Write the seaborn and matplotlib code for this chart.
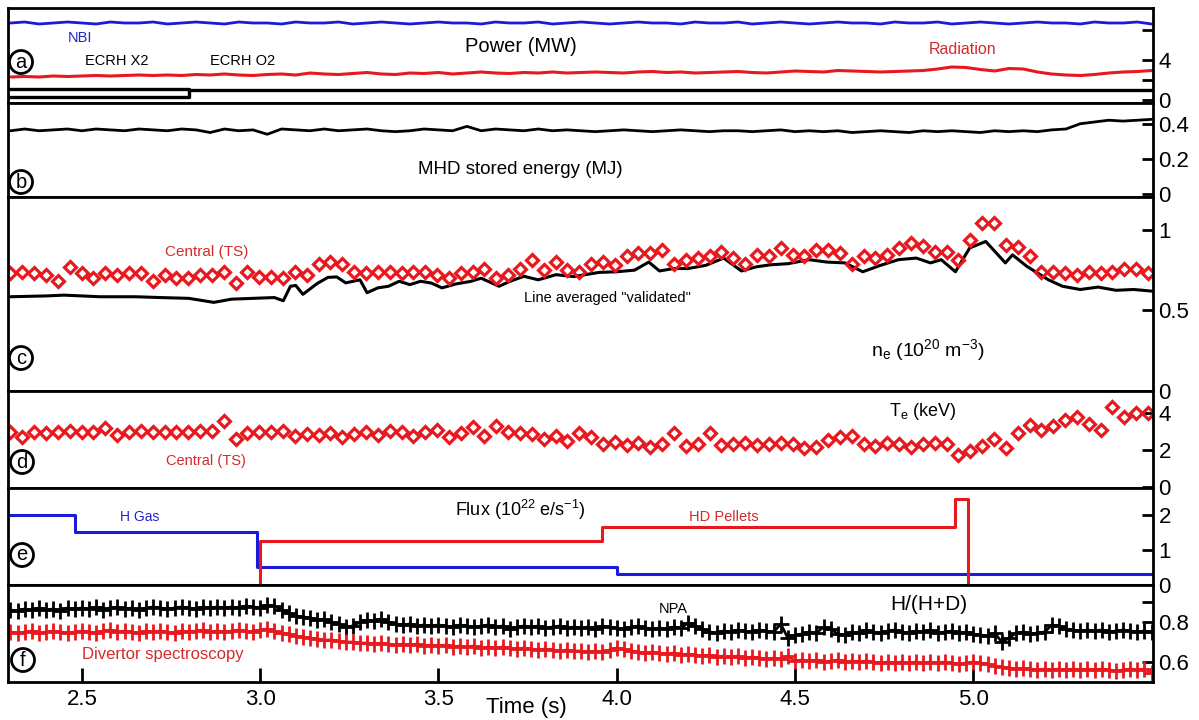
import numpy as np
import matplotlib
matplotlib.use("Agg")
import matplotlib.pyplot as plt
import seaborn as sns

sns.set_theme(style="white")
plt.rcParams['font.family'] = ['Liberation Sans', 'DejaVu Sans']
plt.rcParams['mathtext.fontset'] = 'custom'
plt.rcParams['mathtext.rm'] = 'Liberation Sans'
plt.rcParams['mathtext.it'] = 'Liberation Sans:italic'

# ---------------- data ----------------
T_START, T_END = 2.30, 5.50

# (a) power, MW
nbi_mw = [7.7, 7.8, 7.6, 7.7, 7.8, 7.7, 7.6, 7.8, 7.7, 7.7, 7.8, 7.6, 7.7, 7.8, 7.7, 7.6, 7.8, 7.7, 7.7, 7.6,
          7.8, 7.7, 7.7, 7.8, 7.6, 7.7, 7.8, 7.7, 7.6, 7.7, 7.8, 7.7, 7.7, 7.6, 7.8, 7.7, 7.7, 7.8, 7.6, 7.7,
          7.8, 7.7, 7.6, 7.7, 7.8, 7.7, 7.7, 7.6, 7.8, 7.7, 7.7, 7.8, 7.6, 7.7, 7.8, 7.7, 7.6, 7.7, 7.8, 7.7,
          7.7, 7.6, 7.8, 7.7, 7.7, 7.8, 7.6, 7.7, 7.8, 7.7, 7.6, 7.7, 7.8, 7.7, 7.7, 7.6, 7.8, 7.7, 7.7, 7.8, 7.6]
radiation_mw = [2.3, 2.35, 2.3, 2.4, 2.35, 2.4, 2.45, 2.4, 2.45, 2.5, 2.45,
                2.5, 2.45, 2.55, 2.5, 2.6, 2.5, 2.45, 2.55, 2.6, 2.5,
                2.7, 2.6, 2.55, 2.65, 2.75, 2.6, 2.55, 2.7, 2.65, 2.75,
                2.6, 2.7, 2.8, 2.7, 2.65, 2.75, 2.7, 2.8, 2.7, 2.75,
                2.8, 2.75, 2.7, 2.8, 2.85, 2.75, 2.8, 2.7, 2.75, 2.8,
                2.85, 2.75, 2.7, 2.8, 2.9, 2.85, 2.8, 2.95, 2.9, 2.85,
                2.8, 2.85, 2.9, 2.95, 3.1, 3.3, 3.25, 3.05, 2.9, 3.15,
                3.1, 2.8, 2.6, 2.5, 2.45, 2.55, 2.7, 2.8, 2.85, 2.95]
ecrh_x2_t = [2.29, 2.80]
ecrh_x2_mw = [1.15, 1.15]
ecrh_o2_t = [2.29, 2.80, 2.80, 5.51]
ecrh_o2_mw = [0.3, 0.3, 1.05, 1.05]

# (b) MHD stored energy, MJ
mhd_mj = [0.36, 0.37, 0.36, 0.365, 0.37, 0.36, 0.37, 0.365, 0.36, 0.37, 0.365,
          0.36, 0.37, 0.365, 0.35, 0.37, 0.36, 0.365, 0.34, 0.37, 0.365,
          0.36, 0.37, 0.36, 0.365, 0.37, 0.36, 0.355, 0.36, 0.37, 0.365,
          0.36, 0.385, 0.36, 0.37, 0.365, 0.36, 0.37, 0.36, 0.365, 0.36,
          0.355, 0.36, 0.365, 0.36, 0.355, 0.36, 0.365, 0.36, 0.355, 0.36,
          0.36, 0.355, 0.36, 0.365, 0.355, 0.36, 0.355, 0.36, 0.35, 0.355,
          0.36, 0.355, 0.35, 0.36, 0.355, 0.36, 0.355, 0.35, 0.36, 0.355,
          0.36, 0.355, 0.365, 0.37, 0.40, 0.41, 0.42, 0.415, 0.42, 0.425]

# (c) density, 1e20 m^-3
ne_line_t = [2.30, 2.40, 2.45, 2.55, 2.65, 2.72, 2.80, 2.87, 2.92, 2.98, 3.04, 3.065, 3.085, 3.10,
             3.12, 3.16, 3.19, 3.215, 3.24, 3.28, 3.30, 3.33, 3.36, 3.39, 3.42, 3.45, 3.48, 3.51,
             3.55, 3.59, 3.62, 3.67, 3.70, 3.74, 3.78, 3.83, 3.88, 3.95, 4.00, 4.05, 4.09, 4.12,
             4.16, 4.20, 4.25, 4.30, 4.35, 4.39, 4.43, 4.48, 4.54, 4.59, 4.64, 4.69, 4.74, 4.79,
             4.84, 4.88, 4.91, 4.95, 4.99, 5.035, 5.09, 5.11, 5.15, 5.21, 5.25, 5.30, 5.35, 5.40,
             5.45, 5.50]
ne_line = [0.585, 0.59, 0.595, 0.585, 0.585, 0.58, 0.575, 0.55, 0.57, 0.575, 0.58, 0.56, 0.65, 0.655,
           0.60, 0.667, 0.705, 0.708, 0.671, 0.69, 0.61, 0.64, 0.65, 0.681, 0.66, 0.681, 0.67, 0.64,
           0.665, 0.68, 0.70, 0.65, 0.68, 0.712, 0.69, 0.722, 0.71, 0.736, 0.74, 0.75, 0.80, 0.745,
           0.76, 0.76, 0.78, 0.825, 0.745, 0.77, 0.783, 0.79, 0.815, 0.80, 0.795, 0.74, 0.78, 0.815,
           0.825, 0.795, 0.815, 0.74, 0.888, 0.928, 0.795, 0.845, 0.774, 0.691, 0.65, 0.63, 0.645, 0.625,
           0.63, 0.62]
ne_ts = [0.73, 0.74, 0.73, 0.72, 0.68, 0.77, 0.73, 0.70, 0.73, 0.72, 0.73, 0.73, 0.68, 0.72, 0.70,
         0.70, 0.72, 0.72, 0.74, 0.67, 0.74, 0.71, 0.71, 0.70, 0.74, 0.72, 0.79, 0.80, 0.79, 0.74,
         0.73, 0.74, 0.74, 0.73, 0.74, 0.74, 0.72, 0.70, 0.73, 0.74, 0.76, 0.70, 0.72, 0.76, 0.815,
         0.75, 0.80, 0.75, 0.74, 0.79,
         0.80, 0.78, 0.835, 0.855, 0.855, 0.875, 0.79, 0.815, 0.825, 0.835, 0.865, 0.825, 0.79, 0.845,
         0.835, 0.885, 0.845, 0.835, 0.875, 0.875, 0.855, 0.79, 0.835, 0.825, 0.845, 0.885, 0.92, 0.90,
         0.865, 0.865, 0.815, 0.94, 1.04, 1.04, 0.905, 0.895, 0.835, 0.74, 0.74, 0.73, 0.72, 0.74,
         0.73, 0.74, 0.76, 0.76, 0.73]

# (d) temperature, keV
te_ts = [3.0, 2.7, 2.95, 2.9, 2.95, 3.05, 2.95, 3.0, 3.2, 2.8, 3.0, 3.05, 3.0, 3.0, 2.95, 3.0, 3.05, 3.05,
         3.55, 2.6,
         2.9, 3.0, 3.0, 3.05, 2.75, 2.85, 2.8, 2.9, 2.7, 2.85,
         3.0, 2.8, 3.05, 2.95, 2.75, 3.0, 3.1, 2.7, 2.9, 3.25,
         2.75, 3.3, 2.95, 2.9, 2.85, 2.6, 2.75, 2.5, 2.9, 2.7,
         2.35, 2.45, 2.25, 2.4, 2.15, 2.3, 2.9, 2.2, 2.3, 2.9,
         2.25, 2.3, 2.4, 2.25, 2.35, 2.4, 2.3, 2.1, 2.15, 2.55,
         2.7, 2.75, 2.35, 2.2, 2.4, 2.3, 2.15, 2.35, 2.4, 2.3,
         1.75, 1.95, 2.2, 2.6, 2.1, 2.9, 3.35, 3.1, 3.3, 3.6,
         3.8, 3.4, 3.1, 4.3, 3.8, 4.0, 4.0]
TS_START, TS_END = 2.30, 5.49

# (e) flux, 1e22 e/s
hgas_t = [2.29, 2.48, 2.99, 4.00, 5.51]
hgas_flux = [2.0, 1.5, 0.5, 0.3, 0.3]
pellet_t = [2.29, 3.00, 3.96, 4.95, 4.985, 5.51]
pellet_flux = [0.0, 1.25, 1.65, 2.45, 0.0, 0.0]

# (f) isotope ratio H/(H+D)
npa_ratio = [0.86, 0.855, 0.865, 0.86, 0.87, 0.86, 0.865, 0.855, 0.87, 0.865,
             0.87, 0.865, 0.875, 0.86, 0.87, 0.875, 0.865, 0.87, 0.86, 0.87,
             0.875, 0.87, 0.865, 0.87, 0.875, 0.87, 0.865, 0.875, 0.87, 0.875,
             0.87, 0.875, 0.87, 0.88, 0.875, 0.87, 0.885, 0.88, 0.86, 0.845,
             0.83, 0.825, 0.82, 0.81, 0.815, 0.80, 0.79, 0.775, 0.78, 0.80,
             0.81, 0.805, 0.815, 0.80, 0.79, 0.785, 0.79, 0.78, 0.785, 0.78,
             0.785, 0.78, 0.775, 0.785, 0.78, 0.775, 0.78, 0.785, 0.775, 0.78,
             0.765, 0.775, 0.78, 0.775, 0.78, 0.77, 0.775, 0.78, 0.77, 0.775,
             0.77, 0.775, 0.765, 0.78, 0.775, 0.77, 0.765, 0.775, 0.78, 0.77,
             0.765, 0.77, 0.765, 0.775, 0.77, 0.795, 0.78, 0.765, 0.75, 0.745,
             0.755, 0.75, 0.76, 0.755, 0.75, 0.76, 0.755, 0.75, 0.79, 0.72,
             0.735, 0.74, 0.75, 0.745, 0.775, 0.765, 0.74, 0.735, 0.75, 0.745,
             0.76, 0.75, 0.745, 0.755, 0.76, 0.75, 0.745, 0.755, 0.75, 0.76,
             0.745, 0.75, 0.755, 0.745, 0.75, 0.74, 0.735, 0.73, 0.745, 0.70,
             0.72, 0.745, 0.75, 0.74, 0.745, 0.75, 0.785, 0.78, 0.765, 0.76,
             0.755, 0.76, 0.755, 0.76, 0.75, 0.755, 0.76, 0.755, 0.75, 0.755,
             0.75]
div_ratio = [0.75, 0.745, 0.75, 0.755, 0.745, 0.75, 0.755, 0.75, 0.745, 0.75,
             0.755, 0.75, 0.745, 0.755, 0.76, 0.75, 0.755, 0.75, 0.745, 0.755,
             0.75, 0.755, 0.75, 0.745, 0.755, 0.75, 0.755, 0.76, 0.75, 0.755,
             0.75, 0.755, 0.76, 0.755, 0.75, 0.76, 0.765, 0.755, 0.745, 0.74,
             0.73, 0.725, 0.72, 0.715, 0.71, 0.71, 0.705, 0.70, 0.70, 0.695,
             0.695, 0.69, 0.695, 0.69, 0.685, 0.69, 0.685, 0.69, 0.68, 0.685,
             0.68, 0.685, 0.675, 0.68, 0.675, 0.68, 0.67, 0.675, 0.67, 0.675,
             0.67, 0.665, 0.67, 0.665, 0.66, 0.665, 0.66, 0.655, 0.66, 0.655,
             0.655, 0.65, 0.655, 0.65, 0.66, 0.67, 0.665, 0.655, 0.65, 0.645,
             0.65, 0.645, 0.64, 0.645, 0.635, 0.64, 0.635, 0.63, 0.635, 0.625,
             0.63, 0.625, 0.63, 0.62, 0.625, 0.62, 0.615, 0.62, 0.615, 0.63,
             0.605, 0.61, 0.605, 0.61, 0.60, 0.605, 0.61, 0.60, 0.605, 0.60,
             0.605, 0.60, 0.595, 0.60, 0.595, 0.60, 0.595, 0.60, 0.595, 0.60,
             0.595, 0.60, 0.595, 0.59, 0.595, 0.60, 0.595, 0.59, 0.58, 0.575,
             0.57, 0.565, 0.57, 0.565, 0.56, 0.565, 0.56, 0.565, 0.56, 0.565,
             0.56, 0.565, 0.56, 0.565, 0.56, 0.555, 0.56, 0.565, 0.56, 0.565,
             0.545]

x_ticks = [2.5, 3.0, 3.5, 4.0, 4.5, 5.0]
x_tick_labels = ["2.5", "3.0", "3.5", "4.0", "4.5", "5.0"]

# ---------------- styling ----------------
RED = "#e8191e"
RED_TXT = "#d42a2a"
BLUE = "#1a1ad8"
BLUE_TXT = "#2424c4"
W, H = 1199, 720

fig = plt.figure(figsize=(W / 100, H / 100), dpi=100)
fig.patch.set_facecolor("white")

LEFT, RIGHT = 8, 1153
bounds = [(8, 103), (103, 197), (197, 391), (391, 488), (488, 585), (585, 682)]
axes = []
for top, bot in bounds:
    ax = fig.add_axes([LEFT / W, 1 - bot / H, (RIGHT - LEFT) / W, (bot - top) / H])
    ax.set_facecolor("white")
    ax.set_xlim(2.293, 5.504)
    for s in ax.spines.values():
        s.set_color("black")
        s.set_linewidth(2.0)
        s.set_visible(True)
    ax.yaxis.tick_right()
    ax.tick_params(axis="y", direction="in", length=8, width=2, labelsize=16,
                   pad=4, right=True, left=False, colors="black")
    ax.tick_params(axis="x", bottom=False, labelbottom=False, top=False)
    ax.grid(False)
    ax.set_xlabel("")
    ax.set_ylabel("")
    axes.append(ax)
ax_a, ax_b, ax_c, ax_d, ax_e, ax_f = axes


def line(ax, x, y, color, lw, **kw):
    sns.lineplot(x=list(x), y=list(y), ax=ax, color=color, linewidth=lw,
                 estimator=None, sort=False, legend=False, **kw)


def grid(values, t0=T_START, t1=T_END):
    return np.linspace(t0, t1, len(values))


# (a)
line(ax_a, grid(nbi_mw), nbi_mw, BLUE, 2.0)
line(ax_a, grid(radiation_mw), radiation_mw, RED, 2.2)
line(ax_a, ecrh_x2_t, ecrh_x2_mw, "black", 2.4)
line(ax_a, ecrh_o2_t, ecrh_o2_mw, "black", 2.4)
ax_a.set_ylim(-0.3, 9.2)
ax_a.set_yticks([0, 2, 4, 7])
ax_a.set_yticklabels(["0", "", "4", ""])

# (b)
line(ax_b, grid(mhd_mj), mhd_mj, "black", 2.0)
ax_b.set_ylim(-0.017, 0.518)
ax_b.set_yticks([0, 0.2, 0.4])
ax_b.set_yticklabels(["0", "0.2", "0.4"])

# (c)
line(ax_c, ne_line_t, ne_line, "black", 2.2)
line(ax_c, grid(ne_ts, TS_START, TS_END), ne_ts, RED, 0, linestyle="none", marker="D",
     markersize=6.5, markerfacecolor="none", markeredgecolor=RED, markeredgewidth=2.3)
ax_c.set_ylim(0.0, 1.204)
ax_c.set_yticks([0, 0.5, 1.0])
ax_c.set_yticklabels(["0", "0.5", "1"])

# (d)
line(ax_d, grid(te_ts, TS_START, TS_END), te_ts, RED, 0, linestyle="none", marker="D",
     markersize=6.5, markerfacecolor="none", markeredgecolor=RED, markeredgewidth=2.3)
ax_d.set_ylim(-0.05, 5.19)
ax_d.set_yticks([0, 2, 4])
ax_d.set_yticklabels(["0", "2", "4"])

# (e)
line(ax_e, hgas_t, hgas_flux, BLUE, 2.2, drawstyle="steps-post")
line(ax_e, pellet_t, pellet_flux, RED, 2.2, drawstyle="steps-post")
ax_e.set_ylim(0.0, 2.77)
ax_e.set_yticks([0, 1, 2])
ax_e.set_yticklabels(["0", "1", "2"])

# (f)
line(ax_f, grid(npa_ratio), npa_ratio, "black", 2.0, marker="+", markersize=11,
     markeredgecolor="black", markeredgewidth=2.0)
line(ax_f, grid(div_ratio), div_ratio, RED, 2.0, marker="+", markersize=11,
     markeredgecolor=RED, markeredgewidth=2.0)
ax_f.set_ylim(0.5, 0.985)
ax_f.set_yticks([0.6, 0.8, 0.9])
ax_f.set_yticklabels(["0.6", "0.8", ""])
ax_f.tick_params(axis="x", bottom=True, labelbottom=True, direction="in", length=10,
                 width=2, labelsize=16, pad=5, colors="black")
ax_f.set_xticks(x_ticks)
ax_f.set_xticklabels(x_tick_labels)


# ---------------- annotations ----------------
def ftext(x, y, s, size=11, color="black", **kw):
    fig.text(x / W, 1 - y / H, s, fontsize=size, color=color, ha="center", va="center", **kw)


for letter, (lx, ly) in zip("abcdef", [(21, 62), (21, 182), (21, 358), (22, 462), (22, 555), (23, 660)]):
    ftext(lx, ly, letter, size=14.5,
          bbox=dict(boxstyle="circle,pad=0.1", fc="white", ec="black", lw=2.0))

ftext(80, 38, "NBI", 10.5, BLUE_TXT)
ftext(117, 61, "ECRH X2", 10.5)
ftext(243, 61, "ECRH O2", 10.5)
ftext(521, 47, "Power (MW)", 14.5)
ftext(963, 50, "Radiation", 11.5, RED_TXT)
ftext(520, 170, "MHD stored energy (MJ)", 13.5)
ftext(207, 252, "Central (TS)", 11, RED_TXT)
ftext(607, 298, 'Line averaged "validated"', 10.5)
ftext(928, 350, r"n$_\mathregular{e}$ (10$^\mathregular{20}$ m$^\mathregular{-3}$)", 14)
ftext(923, 411, r"T$_\mathregular{e}$ (keV)", 13)
ftext(206, 461, "Central (TS)", 10.5, RED_TXT)
ftext(140, 517, "H Gas", 10, BLUE_TXT)
ftext(520, 510, r"Flux (10$^\mathregular{22}$ e/s$^\mathregular{-1}$)", 13)
ftext(724, 517, "HD Pellets", 10.5, RED_TXT)
ftext(673, 609, "NPA", 10.5)
ftext(929, 604, "H/(H+D)", 15)
ftext(163, 655, "Divertor spectroscopy", 12, RED_TXT)
ftext(526, 707, "Time (s)", 16)

fig.savefig("out.png", dpi=100, facecolor="white")
